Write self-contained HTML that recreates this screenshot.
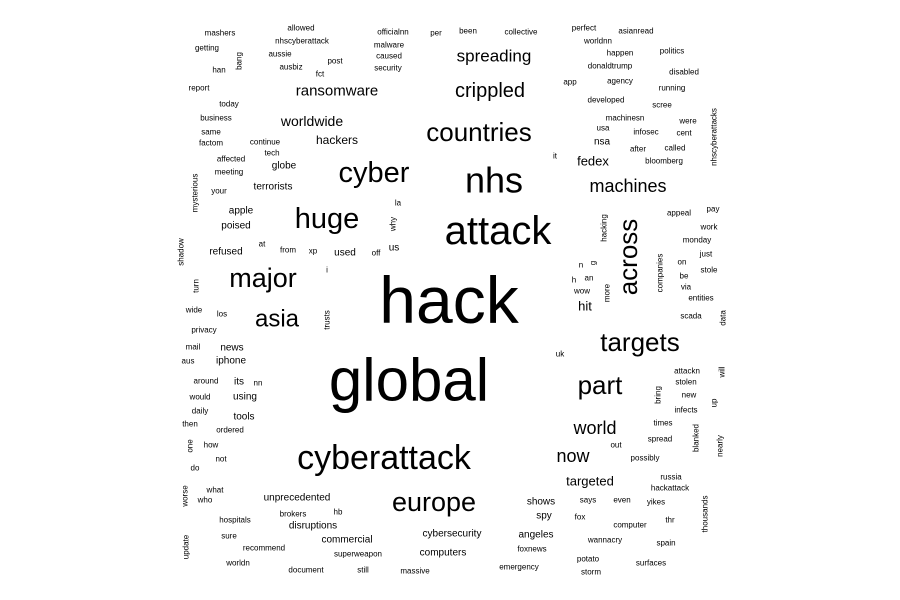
<!DOCTYPE html>
<html><head><meta charset="utf-8"><style>
html,body{margin:0;padding:0;background:#fff}
svg{display:block}
text{font-family:"Liberation Sans",Arial,sans-serif;fill:#000;text-anchor:middle;dominant-baseline:central}
</style></head><body>
<svg width="900" height="600" viewBox="0 0 900 600">
<g font-size="8">
<text x="220" y="33">mashers</text>
<text x="301" y="28">allowed</text>
<text x="393" y="32">officialnn</text>
<text x="436" y="33">per</text>
<text x="468" y="31">been</text>
<text x="521" y="32">collective</text>
<text x="207" y="48">getting</text>
<text x="302" y="41">nhscyberattack</text>
<text x="280" y="54">aussie</text>
<text x="389" y="45">malware</text>
<text x="389" y="56">caused</text>
<text x="335" y="61">post</text>
<text transform="translate(239,61) rotate(-90)">bang</text>
<text x="219" y="70">han</text>
<text x="291" y="67">ausbiz</text>
<text x="320" y="74">fct</text>
<text x="388" y="68">security</text>
<text x="199" y="88">report</text>
<text x="229" y="104">today</text>
<text x="216" y="118">business</text>
<text x="211" y="132">same</text>
<text x="211" y="143">factom</text>
<text x="265" y="142">continue</text>
<text x="272" y="153">tech</text>
<text x="231" y="159">affected</text>
<text x="229" y="172">meeting</text>
<text transform="translate(195,193) rotate(-90)">mysterious</text>
<text x="219" y="191">your</text>
<text x="398" y="203">la</text>
<text transform="translate(393,224) rotate(-90)">why</text>
<text x="262" y="244">at</text>
<text x="288" y="250">from</text>
<text x="313" y="251">xp</text>
<text x="376" y="253">off</text>
<text transform="translate(181,252) rotate(-90)">shadow</text>
<text x="327" y="270">i</text>
<text transform="translate(196,286) rotate(-90)">turn</text>
<text x="194" y="310">wide</text>
<text x="222" y="314">los</text>
<text transform="translate(327,320) rotate(-90)">trusts</text>
<text x="204" y="330">privacy</text>
<text x="193" y="347">mail</text>
<text x="188" y="361">aus</text>
<text x="206" y="381">around</text>
<text x="258" y="383">nn</text>
<text x="200" y="397">would</text>
<text x="200" y="411">daily</text>
<text x="190" y="424">then</text>
<text x="230" y="430">ordered</text>
<text transform="translate(190,446) rotate(-90)">one</text>
<text x="211" y="445">how</text>
<text x="221" y="459">not</text>
<text x="195" y="468">do</text>
<text transform="translate(185,496) rotate(-90)">worse</text>
<text x="215" y="490">what</text>
<text x="205" y="500">who</text>
<text x="293" y="514">brokers</text>
<text x="338" y="512">hb</text>
<text x="235" y="520">hospitals</text>
<text x="229" y="536">sure</text>
<text transform="translate(186,547) rotate(-90)">update</text>
<text x="264" y="548">recommend</text>
<text x="358" y="554">superweapon</text>
<text x="238" y="563">worldn</text>
<text x="306" y="570">document</text>
<text x="363" y="570">still</text>
<text x="415" y="571">massive</text>
<text x="519" y="567">emergency</text>
<text x="532" y="549">foxnews</text>
<text x="584" y="28">perfect</text>
<text x="636" y="31">asianread</text>
<text x="598" y="41">worldnn</text>
<text x="620" y="53">happen</text>
<text x="672" y="51">politics</text>
<text x="610" y="66">donaldtrump</text>
<text x="684" y="72">disabled</text>
<text x="570" y="82">app</text>
<text x="620" y="81">agency</text>
<text x="672" y="88">running</text>
<text x="606" y="100">developed</text>
<text x="662" y="105">scree</text>
<text x="625" y="118">machinesn</text>
<text x="688" y="121">were</text>
<text transform="translate(714,137) rotate(-90)">nhscyberattacks</text>
<text x="603" y="128">usa</text>
<text x="646" y="132">infosec</text>
<text x="684" y="133">cent</text>
<text x="638" y="149">after</text>
<text x="675" y="148">called</text>
<text x="555" y="156">it</text>
<text x="664" y="161">bloomberg</text>
<text x="679" y="213">appeal</text>
<text x="713" y="209">pay</text>
<text transform="translate(604,228) rotate(-90)">hacking</text>
<text x="709" y="227">work</text>
<text x="697" y="240">monday</text>
<text x="706" y="254">just</text>
<text transform="translate(660,273) rotate(-90)">companies</text>
<text x="682" y="262">on</text>
<text x="581" y="265">n</text>
<text transform="translate(593,263) rotate(-90)">g</text>
<text x="709" y="270">stole</text>
<text x="684" y="276">be</text>
<text x="574" y="280">h</text>
<text x="589" y="278">an</text>
<text x="582" y="291">wow</text>
<text x="686" y="287">via</text>
<text transform="translate(607,293) rotate(-90)">more</text>
<text x="701" y="298">entities</text>
<text x="691" y="316">scada</text>
<text transform="translate(723,318) rotate(-90)">data</text>
<text x="560" y="354">uk</text>
<text x="687" y="371">attackn</text>
<text transform="translate(722,372) rotate(-90)">will</text>
<text x="686" y="382">stolen</text>
<text transform="translate(658,395) rotate(-90)">bring</text>
<text x="689" y="395">new</text>
<text transform="translate(714,403) rotate(-90)">up</text>
<text x="686" y="410">infects</text>
<text x="663" y="423">times</text>
<text x="660" y="439">spread</text>
<text x="616" y="445">out</text>
<text transform="translate(696,438) rotate(-90)">blanked</text>
<text transform="translate(720,446) rotate(-90)">nearly</text>
<text x="645" y="458">possibly</text>
<text x="671" y="477">russia</text>
<text x="670" y="488">hackattack</text>
<text x="588" y="500">says</text>
<text x="622" y="500">even</text>
<text x="656" y="502">yikes</text>
<text x="580" y="517">fox</text>
<text x="670" y="520">thr</text>
<text transform="translate(705,514) rotate(-90)">thousands</text>
<text x="630" y="525">computer</text>
<text x="605" y="540">wannacry</text>
<text x="666" y="543">spain</text>
<text x="588" y="559">potato</text>
<text x="651" y="563">surfaces</text>
<text x="591" y="572">storm</text>
</g>
<g font-size="10">
<text x="284" y="166">globe</text>
<text x="273" y="187">terrorists</text>
<text x="241" y="211">apple</text>
<text x="236" y="226">poised</text>
<text x="226" y="252">refused</text>
<text x="345" y="253">used</text>
<text x="394" y="248">us</text>
<text x="232" y="348">news</text>
<text x="231" y="361">iphone</text>
<text x="239" y="382">its</text>
<text x="245" y="397">using</text>
<text x="244" y="417">tools</text>
<text x="297" y="498">unprecedented</text>
<text x="313" y="526">disruptions</text>
<text x="347" y="540">commercial</text>
<text x="452" y="534">cybersecurity</text>
<text x="443" y="553">computers</text>
<text x="541" y="502">shows</text>
<text x="544" y="516">spy</text>
<text x="536" y="535">angeles</text>
<text x="602" y="142">nsa</text>
</g>
<text x="337" y="140" font-size="12">hackers</text>
<text x="312" y="121" font-size="14">worldwide</text>
<text x="337" y="91" font-size="15">ransomware</text>
<text x="494" y="56" font-size="17">spreading</text>
<text x="490" y="91" font-size="20">crippled</text>
<text x="479" y="132" font-size="26">countries</text>
<text x="374" y="173" font-size="29">cyber</text>
<text x="494" y="180" font-size="36">nhs</text>
<text x="327" y="219" font-size="29">huge</text>
<text x="498" y="231" font-size="40">attack</text>
<text x="263" y="278" font-size="27">major</text>
<text x="277" y="319" font-size="24">asia</text>
<text x="449" y="300" font-size="66">hack</text>
<text x="409" y="380" font-size="60">global</text>
<text x="384" y="458" font-size="34">cyberattack</text>
<text x="434" y="502" font-size="27">europe</text>
<text x="593" y="161" font-size="13">fedex</text>
<text x="628" y="186" font-size="18">machines</text>
<text font-size="26" transform="translate(628,257) rotate(-90)">across</text>
<text x="585" y="306" font-size="13">hit</text>
<text x="640" y="342" font-size="26">targets</text>
<text x="600" y="385" font-size="26">part</text>
<text x="595" y="428" font-size="18">world</text>
<text x="573" y="456" font-size="18">now</text>
<text x="590" y="481" font-size="13">targeted</text>
</svg>
</body></html>
